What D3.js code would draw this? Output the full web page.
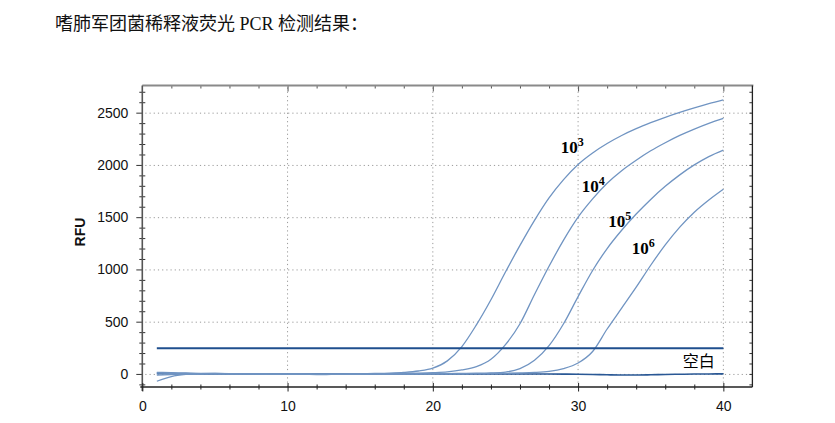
<!DOCTYPE html>
<html>
<head>
<meta charset="utf-8">
<script src="https://cdn.jsdelivr.net/npm/d3@7"></script>
<style>
html,body{margin:0;padding:0;background:#fff;}
svg{display:block;}
</style>
</head>
<body>
<svg id="chart" width="835" height="423"></svg>
<script>
const titleText = "嗜肺军团菌稀释液荧光 PCR 检测结果：";
const cycles = [1,2,3,4,5,6,7,8,9,10,11,12,13,14,15,16,17,18,19,20,21,22,23,24,25,26,27,28,29,30,31,32,33,34,35,36,37,38,39,40];
const s1e3 = [-70,-25,-5,2,4,3,1,0,-2,-3,-2,-4,-3,-1,1,4,8,15,28,55,125,262,470,710,975,1230,1470,1685,1860,2005,2115,2205,2282,2347,2404,2456,2503,2546,2586,2622];
const s1e4 = [15,12,9,6,4,2,0,-2,-4,-5,-4,-6,-5,-4,-2,0,2,4,7,12,20,38,70,140,280,480,760,1030,1280,1500,1675,1825,1945,2045,2135,2212,2282,2343,2398,2446];
const s1e5 = [8,6,4,3,2,1,0,-1,-2,-3,-3,-4,-4,-3,-2,-2,-1,0,1,2,3,5,7,10,18,50,130,270,480,740,990,1200,1375,1530,1670,1795,1905,2000,2080,2142];
const s1e6 = [-10,-6,-3,-1,0,1,1,0,-1,-2,-3,-3,-4,-4,-3,-2,-2,-1,0,0,1,2,3,4,6,9,14,25,52,105,215,430,630,830,1040,1235,1405,1548,1665,1768];
const blank = [5,3,2,1,0,0,-1,-2,-2,-1,0,0,-1,-2,-2,-1,0,0,0,1,1,1,0,0,0,0,0,-1,-2,-3,-5,-8,-10,-10,-8,-5,-3,-1,0,1];
const thresholdValue = 246;
const xTicks = [0,10,20,30,40];
const yTicks = [0,500,1000,1500,2000,2500];
const curveLabels = [
  {base:"10", exp:"3", cycle:28.8, value:2117},
  {base:"10", exp:"4", cycle:30.25, value:1744},
  {base:"10", exp:"5", cycle:32.08, value:1409},
  {base:"10", exp:"6", cycle:33.7, value:1148}
];
const blankLabel = {text:"空白", cycle:37.2, value:70};
const yLabel = "RFU";

const svg = d3.select("#chart");
const xLeft = 142.3, xRight = 752.4, yTop = 85.5, yBottom = 387;
const x = d3.scaleLinear().domain([0,42]).range([xLeft, xRight]);
const y = d3.scaleLinear().domain([-125,2760]).range([yBottom, yTop]);

// title
svg.append("text").attr("x",55).attr("y",30)
  .style("font-family","'Liberation Serif','Noto Sans CJK SC',serif")
  .style("font-size","18px").attr("fill","#111").text(titleText);

// grid
const grid = svg.append("g").attr("stroke","#9a9a9a").attr("stroke-width",1).attr("stroke-dasharray","1.2,3");
grid.selectAll("line.h").data(yTicks).join("line")
  .attr("x1",xLeft+3).attr("x2",xRight).attr("y1",d=>y(d)+0.5).attr("y2",d=>y(d)+0.5);
grid.selectAll("line.v").data(xTicks.filter(d=>d>0)).join("line")
  .attr("x1",d=>x(d)).attr("x2",d=>x(d)).attr("y1",yTop+2).attr("y2",yBottom);

// top axis (gray) with inward ticks
const topAx = d3.axisTop(x).tickValues(d3.range(2,42,2)).tickSize(-3).tickFormat("");
const gTop = svg.append("g").attr("transform",`translate(0,${yTop})`).call(topAx);
gTop.select(".domain").remove();
gTop.selectAll(".tick line").attr("stroke","#555");
gTop.selectAll(".tick").filter(d=>d%10===0).select("line").attr("y2",6);
svg.append("line").attr("x1",xLeft).attr("x2",xRight+1).attr("y1",yTop).attr("y2",yTop)
  .attr("stroke","#8a8a8a").attr("stroke-width",2);

// right axis with inward ticks
const rightAx = d3.axisRight(y).tickValues(d3.range(-100,2800,100)).tickSize(-3).tickFormat("");
const gRight = svg.append("g").attr("transform",`translate(${xRight},0)`).call(rightAx);
gRight.select(".domain").remove();
gRight.selectAll(".tick line").attr("stroke","#333");
svg.append("line").attr("x1",xRight).attr("x2",xRight).attr("y1",yTop).attr("y2",yBottom)
  .attr("stroke","#222").attr("stroke-width",1.3);

// left axis
const leftMinor = d3.axisLeft(y).tickValues(d3.range(-100,2800,100).filter(d=>d%500!==0)).tickSize(3).tickFormat("");
const gLM = svg.append("g").attr("transform",`translate(${xLeft},0)`).call(leftMinor);
gLM.select(".domain").remove();
gLM.selectAll(".tick line").attr("x1",3).attr("stroke","#333");
const leftMajor = d3.axisLeft(y).tickValues(yTicks).tickSize(6).tickPadding(8).tickFormat(d3.format("d"));
const gL = svg.append("g").attr("transform",`translate(${xLeft},0)`).call(leftMajor);
gL.select(".domain").remove();
gL.selectAll(".tick line").attr("stroke","#333");
gL.selectAll(".tick text").style("font-family","'Liberation Sans',Arial,sans-serif").style("font-size","14px").attr("fill","#111");
svg.append("line").attr("x1",xLeft).attr("x2",xLeft).attr("y1",yTop).attr("y2",yBottom+4)
  .attr("stroke","#555").attr("stroke-width",1.6);

// bottom axis
const bottomMinor = d3.axisBottom(x).tickValues(d3.range(2,42,2).filter(d=>d%10!==0)).tickSize(2.5).tickFormat("");
const gBM = svg.append("g").attr("transform",`translate(0,${yBottom})`).call(bottomMinor);
gBM.select(".domain").remove();
gBM.selectAll(".tick line").attr("y1",-2.5).attr("stroke","#222");
const bottomMajor = d3.axisBottom(x).tickValues(xTicks).tickSize(4.5).tickPadding(10).tickFormat(d3.format("d"));
const gB = svg.append("g").attr("transform",`translate(0,${yBottom})`).call(bottomMajor);
gB.select(".domain").remove();
gB.selectAll(".tick line").attr("y1",-4).attr("stroke","#222");
gB.selectAll(".tick text").style("font-family","'Liberation Sans',Arial,sans-serif").style("font-size","14px").attr("fill","#111");
svg.append("line").attr("x1",xLeft-2).attr("x2",xRight).attr("y1",yBottom).attr("y2",yBottom)
  .attr("stroke","#222").attr("stroke-width",1.3);

// y label
svg.append("text").attr("transform","translate(85,232) rotate(-90)").attr("text-anchor","middle")
  .style("font-family","'Liberation Sans',Arial,sans-serif").style("font-size","14px").style("font-weight","bold")
  .attr("fill","#111").text(yLabel);

// lines
const line = d3.line().x((d,i)=>x(cycles[i])).y(d=>y(d)).curve(d3.curveMonotoneX);
const series = [s1e3, s1e4, s1e5, s1e6];
svg.append("path").datum(blank).attr("d",line).attr("fill","none").attr("stroke","#2a5895").attr("stroke-width",1.6);
svg.append("g").selectAll("path").data(series).join("path")
  .attr("d",line).attr("fill","none").attr("stroke","#7094c2").attr("stroke-width",1.3);
// threshold
svg.append("line").attr("x1",x(cycles[0])).attr("x2",x(cycles[cycles.length-1]))
  .attr("y1",y(thresholdValue)).attr("y2",y(thresholdValue))
  .attr("stroke","#1f4f8e").attr("stroke-width",2);

// curve labels
const lab = svg.append("g").selectAll("text").data(curveLabels).join("text")
  .attr("x",d=>x(d.cycle)).attr("y",d=>y(d.value))
  .style("font-family","'Liberation Serif','Times New Roman',serif").style("font-weight","bold").style("font-size","17px")
  .attr("fill","#000");
lab.append("tspan").text(d=>d.base);
lab.append("tspan").attr("dy",-7).style("font-size","12px").text(d=>d.exp);

svg.append("text").attr("x",x(blankLabel.cycle)).attr("y",y(blankLabel.value))
  .style("font-family","'Noto Sans CJK SC',sans-serif").style("font-size","16px").attr("fill","#000")
  .text(blankLabel.text);
</script>
</body>
</html>
